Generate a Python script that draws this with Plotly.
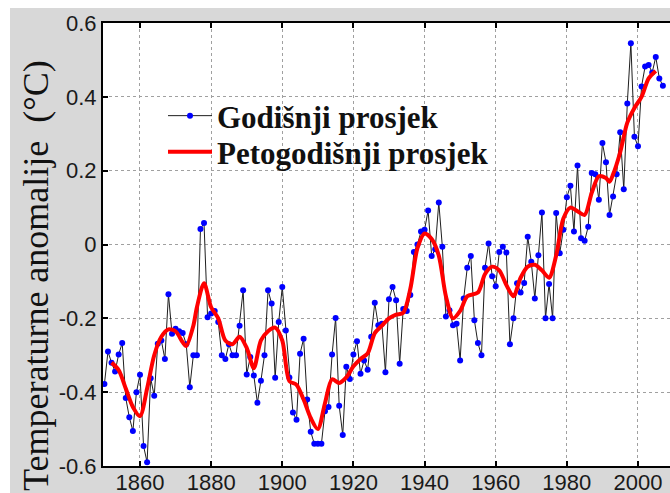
import plotly.graph_objects as go

years = list(range(1850, 2008))
annual = [
    -0.378, -0.29, -0.32, -0.344, -0.298, -0.267, -0.416, -0.468, -0.505, -0.40,
    -0.353, -0.546, -0.59, -0.362, -0.41, -0.269, -0.26, -0.31, -0.135, -0.242,
    -0.228, -0.235, -0.24, -0.27, -0.387, -0.30, -0.30, 0.042, 0.058, -0.197,
    -0.187, -0.18, -0.21, -0.30, -0.31, -0.27, -0.30, -0.30, -0.22, -0.124,
    -0.352, -0.305, -0.355, -0.429, -0.369, -0.30, -0.124, -0.16, -0.361, -0.21,
    -0.115, -0.233, -0.36, -0.455, -0.475, -0.296, -0.255, -0.42, -0.507, -0.54,
    -0.54, -0.54, -0.452, -0.44, -0.298, -0.199, -0.437, -0.516, -0.331, -0.364,
    -0.298, -0.262, -0.35, -0.314, -0.339, -0.25, -0.158, -0.219, -0.215, -0.346,
    -0.148, -0.115, -0.151, -0.323, -0.175, -0.18, -0.137, -0.02, 0.0, 0.035,
    0.04, 0.092, -0.031, -0.013, 0.114, -0.006, -0.195, -0.178, -0.219, -0.215,
    -0.314, -0.146, -0.063, -0.031, -0.205, -0.267, -0.30, -0.063, 0.003, -0.086,
    -0.113, -0.02, -0.006, -0.022, -0.27, -0.2, -0.105, -0.13, -0.104, 0.021,
    -0.047, -0.146, -0.029, 0.087, -0.2, -0.107, -0.2, 0.085, -0.024, 0.04,
    0.128, 0.159, 0.035, 0.214, 0.017, 0.01, 0.048, 0.194, 0.19, 0.121,
    0.275, 0.223, 0.08, 0.13, 0.19, 0.304, 0.15, 0.382, 0.545, 0.292,
    0.266, 0.428, 0.482, 0.486, 0.466, 0.508, 0.45, 0.43,
]

smooth_years = [
    1852, 1854, 1856, 1858, 1860, 1862, 1864, 1866, 1868, 1870,
    1872, 1873, 1875, 1876, 1878, 1880, 1882, 1884, 1886, 1888,
    1890, 1892, 1894, 1896, 1898, 1900, 1902, 1904, 1906, 1908,
    1910, 1912, 1914, 1916, 1918, 1920, 1922, 1924, 1926, 1928,
    1930, 1932, 1934, 1936, 1938, 1940, 1942, 1944, 1946, 1948,
    1950, 1952, 1955, 1957, 1959, 1961, 1963, 1965, 1967, 1969,
    1971, 1973, 1975, 1977, 1979, 1981, 1983, 1985, 1987, 1989,
    1991, 1992, 1993, 1995, 1997, 1999, 2001, 2003, 2005,
]
smooth = [
    -0.32, -0.34, -0.39, -0.44, -0.465, -0.39, -0.30, -0.25, -0.23, -0.235,
    -0.265, -0.275, -0.22, -0.17, -0.105, -0.17, -0.20, -0.26, -0.27, -0.25,
    -0.28, -0.335, -0.26, -0.235, -0.225, -0.26, -0.37, -0.38, -0.42, -0.47,
    -0.50, -0.43, -0.365, -0.375, -0.36, -0.33, -0.31, -0.295, -0.24, -0.22,
    -0.20, -0.19, -0.185, -0.12, -0.01, 0.03, 0.015, -0.03, -0.14, -0.20,
    -0.18, -0.14, -0.13, -0.08, -0.06, -0.07, -0.11, -0.14, -0.09, -0.06,
    -0.055, -0.07, -0.09, -0.03, 0.07, 0.10, 0.09, 0.08, 0.14, 0.185,
    0.18, 0.17, 0.19, 0.25, 0.33, 0.37, 0.40, 0.45, 0.47,
]

x_ticks = [1860, 1880, 1900, 1920, 1940, 1960, 1980, 2000]
y_ticks = [-0.6, -0.4, -0.2, 0, 0.2, 0.4, 0.6]
y_tick_text = ["-0.6", "-0.4", "-0.2", "0", "0.2", "0.4", "0.6"]

W, H = 670, 493
L, R, T, B = 103, 0, 23, 27
pw, ph = W - L - R, H - T - B


def px(xp):
    return (xp - L) / pw


def py(yp):
    return (H - B - yp) / ph


fig = go.Figure()
fig.add_trace(go.Scatter(
    x=years, y=annual, mode="lines+markers",
    name="<b>Godišnji prosjek</b>", legend="legend",
    line=dict(color="#1e1e1e", width=1),
    marker=dict(color="#0000ff", size=6),
))
fig.add_trace(go.Scatter(
    x=smooth_years, y=smooth, mode="lines",
    name="<b>Petogodišnji prosjek</b>", legend="legend2",
    line=dict(color="#ff0000", width=4, shape="spline", smoothing=0.8),
))

leg_font = dict(family="Liberation Serif", size=31, color="#111111")
axis_font = dict(family="Liberation Sans", size=22, color="#1a1a1a")

fig.update_layout(
    width=W, height=H,
    margin=dict(l=L, r=R, t=T, b=B, autoexpand=False),
    paper_bgcolor="#d8d8d8",
    plot_bgcolor="#ffffff",
    showlegend=True,
    legend=dict(
        x=px(163), y=py(116), xanchor="left", yanchor="middle",
        bgcolor="rgba(0,0,0,0)", borderwidth=0, font=leg_font, itemwidth=44,
    ),
    legend2=dict(
        x=px(163), y=py(152), xanchor="left", yanchor="middle",
        bgcolor="rgba(0,0,0,0)", borderwidth=0, font=leg_font, itemwidth=44,
    ),
    xaxis=dict(
        range=[1849.6, 2009.0], tickvals=x_ticks,
        ticks="inside", ticklen=5, tickwidth=1.5, tickcolor="#000",
        showline=True, linecolor="#000", linewidth=2, mirror="ticks",
        showgrid=True, gridcolor="#a0a0a0", griddash="dot", gridwidth=1,
        zeroline=False, tickfont=axis_font, automargin=False,
        ticklabelstandoff=-4,
    ),
    yaxis=dict(
        range=[-0.6, 0.6], tickvals=y_ticks, ticktext=y_tick_text,
        ticks="inside", ticklen=5, tickwidth=1.5, tickcolor="#000",
        showline=True, linecolor="#000", linewidth=2, mirror=False,
        showgrid=True, gridcolor="#a0a0a0", griddash="dot", gridwidth=1,
        zeroline=False, tickfont=axis_font, automargin=False,
    ),
    annotations=[dict(
        text="Temperaturne anomalije\u00a0 (°C)",
        xref="paper", yref="paper", x=px(36), y=py(276),
        xanchor="center", yanchor="middle", textangle=-90, showarrow=False,
        font=dict(family="Liberation Serif", size=36, color="#111111"),
    )],
    shapes=[
        dict(type="rect", xref="paper", yref="paper", x0=px(0), x1=px(10),
             y0=py(H), y1=py(0), fillcolor="#ffffff", line=dict(width=0), layer="above"),
        dict(type="rect", xref="paper", yref="paper", x0=px(0), x1=px(W),
             y0=py(8), y1=py(0), fillcolor="#ffffff", line=dict(width=0), layer="above"),
    ],
)

fig.write_html(
    "out.html",
    config={"displayModeBar": False},
    post_script="document.body.style.margin='0';document.body.style.padding='0';",
)
